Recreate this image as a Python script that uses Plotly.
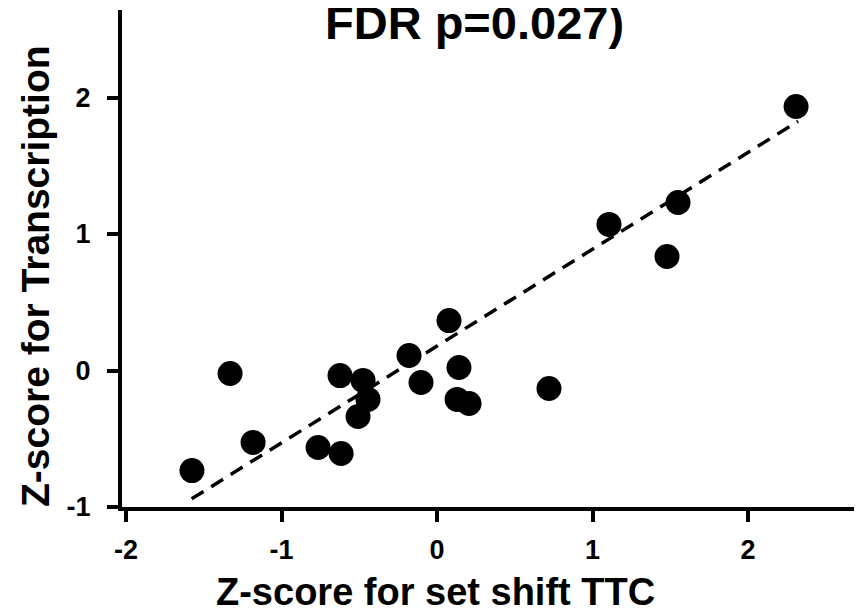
import plotly.graph_objects as go

# Data
set_shift_ttc = [2.309, 1.550, 1.106, 1.479, 0.077, -0.180, 0.141, 0.720, -0.103, 0.129,
                 0.206, -1.331, -0.624, -0.476, -0.444, -0.508, -1.183, -0.765, -0.617, -1.576]
transcription = [1.934, 1.231, 1.070, 0.835, 0.366, 0.110, 0.022, -0.132, -0.088, -0.212,
                 -0.242, -0.022, -0.037, -0.073, -0.212, -0.337, -0.527, -0.564, -0.608, -0.733]

fit_x = [-1.578, 2.322]
fit_y = [-0.940, 1.826]

x_ticks = [-2, -1, 0, 1, 2]
y_ticks = [-1, 0, 1, 2]

title_text = "FDR p=0.027)"
x_title = "Z-score for set shift TTC"
y_title = "Z-score for Transcription"

FONT = "Liberation Sans, Arial, Helvetica, sans-serif"
OFF = 8  # page body margin of the html page

# plot area in page pixels
PL, PR, PT, PB = 122, 862, 10, 507
PW, PH = PR - PL, PB - PT


def px(xp):
    return (xp - PL) / PW


def py(yp):
    return (PB - yp) / PH


fig = go.Figure()
fig.add_trace(go.Scatter(
    x=fit_x, y=fit_y, mode="lines",
    line=dict(color="black", width=3.5, dash="14px,9px"),
    hoverinfo="skip", showlegend=False,
))
fig.add_trace(go.Scatter(
    x=set_shift_ttc, y=transcription, mode="markers",
    marker=dict(color="black", size=25, symbol="circle", line=dict(width=0)),
    showlegend=False,
))

fig.update_layout(
    width=862 - OFF, height=611 - OFF,
    margin=dict(l=PL - OFF, r=0, t=PT - OFF, b=611 - PB),
    paper_bgcolor="white", plot_bgcolor="white",
    font=dict(family=FONT, color="black"),
    xaxis=dict(
        range=[-2.026, 2.733],
        tickvals=x_ticks, ticktext=[str(v) for v in x_ticks],
        showgrid=False, zeroline=False,
        showline=True, linecolor="black", linewidth=4,
        ticks="outside", ticklen=11, tickwidth=4, tickcolor="black",
        ticklabelstandoff=5,
        tickfont=dict(family=FONT, size=27, color="black", weight="bold"),
    ),
    yaxis=dict(
        range=[-1.0, 2.641],
        tickvals=y_ticks, ticktext=[str(v) for v in y_ticks],
        showgrid=False, zeroline=False,
        showline=True, linecolor="black", linewidth=4,
        ticks="outside", ticklen=11, tickwidth=4, tickcolor="black",
        ticklabelstandoff=11,
        tickfont=dict(family=FONT, size=27, color="black", weight="bold"),
    ),
    annotations=[
        dict(text=title_text, xref="paper", yref="paper",
             x=px(474), y=py(23), xanchor="center", yanchor="middle",
             showarrow=False,
             font=dict(family=FONT, size=47, color="black", weight="bold")),
        dict(text=x_title, xref="paper", yref="paper",
             x=px(435), y=py(592), xanchor="center", yanchor="middle",
             showarrow=False,
             font=dict(family=FONT, size=38, color="black", weight="bold")),
        dict(text=y_title, xref="paper", yref="paper",
             x=px(35), y=py(276), xanchor="center", yanchor="middle",
             textangle=-90, showarrow=False,
             font=dict(family=FONT, size=39, color="black", weight="bold")),
    ],
)

fig.write_html("out.html")
